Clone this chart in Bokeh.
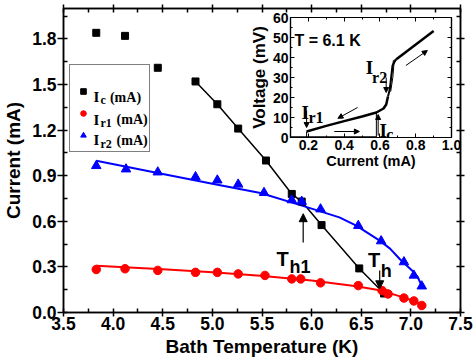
from bokeh.plotting import figure
from bokeh.models import (Range1d, LinearAxis, Legend, LegendItem, Label, Arrow,
                          NormalHead, SingleIntervalTicker, PrintfTickFormatter,
                          CustomJSTickFormatter)
from bokeh.layouts import column
from bokeh.embed import file_html
from bokeh.resources import INLINE

# ---------------- data ----------------
T_ic = [3.83, 4.12, 4.45, 4.83, 5.05, 5.26, 5.54, 5.80, 5.90, 6.10, 6.48, 6.73]
I_c = [1.84, 1.82, 1.61, 1.52, 1.37, 1.21, 1.00, 0.78, 0.73, 0.575, 0.29, 0.125]

T_r1 = [3.83, 4.12, 4.45, 4.83, 5.05, 5.26, 5.53, 5.80, 5.89, 6.09, 6.47, 6.71, 6.77, 6.93, 7.03, 7.11]
I_r1 = [0.283, 0.288, 0.277, 0.264, 0.264, 0.254, 0.244, 0.221, 0.221, 0.195, 0.177, 0.144, 0.122, 0.095, 0.076, 0.046]

T_r2 = [3.83, 4.13, 4.45, 4.83, 5.05, 5.26, 5.52, 5.80, 5.90, 6.09, 6.47, 6.70, 6.93, 7.03, 7.11]
I_r2 = [0.965, 0.943, 0.923, 0.892, 0.870, 0.843, 0.788, 0.740, 0.730, 0.680, 0.571, 0.470, 0.332, 0.244, 0.173]

# fitted curves
fit_r1_T = [3.83, 4.50, 5.00, 5.485, 6.00, 6.45, 6.70, 6.89, 7.00, 7.12]
fit_r1_I = [0.308, 0.285, 0.264, 0.242, 0.210, 0.173, 0.145, 0.106, 0.082, 0.050]
fit_r2_T = [3.83, 4.45, 5.00, 5.485, 5.92, 6.28, 6.45, 6.69, 6.79, 6.89, 7.02, 7.07, 7.12]
fit_r2_I = [0.998, 0.918, 0.847, 0.786, 0.700, 0.626, 0.571, 0.471, 0.420, 0.350, 0.272, 0.232, 0.160]

# inset I-V curve at T = 6.1 K (current mA, voltage mV)
iv_zero_I = [0.10, 0.58]
iv_zero_V = [0.0, 0.0]
iv_jump_I = [0.58, 0.58]
iv_jump_V = [0.0, 12.5]
iv_ret_I = [0.19, 0.19]
iv_ret_V = [0.0, 3.0]
iv_res_I = [0.19, 0.30, 0.40, 0.50, 0.58, 0.62, 0.635, 0.645]
iv_res_V = [3.0, 5.8, 8.2, 10.5, 12.5, 14.5, 16.5, 20.5]
iv_tr_I = [0.645, 0.655, 0.670, 0.690]
iv_tr_V = [20.5, 24.0, 36.0, 39.0]
iv_th1_I = [0.655, 0.675, 0.690]
iv_th1_V = [24.0, 38.5, 39.0]
iv_th2_I = [0.660, 0.672, 0.680]
iv_th2_V = [23.0, 30.0, 38.5]
iv_up_I = [0.69, 0.90]
iv_up_V = [39.0, 53.3]

BOLD_SANS = "Liberation Sans"
SERIF = "Liberation Serif"

# ---------------- main figure ----------------
p = figure(width=474, height=364, x_range=Range1d(3.5, 7.5), y_range=Range1d(0, 2.0),
           output_backend="svg", toolbar_location=None,
           min_border_left=63, min_border_right=13, min_border_top=8, min_border_bottom=52,
           background_fill_color="white", border_fill_color="white")
p.xgrid.visible = False
p.ygrid.visible = False
p.outline_line_color = "black"
p.outline_line_width = 1.5

xt = SingleIntervalTicker(interval=0.5, num_minor_ticks=2)
yt = SingleIntervalTicker(interval=0.3, num_minor_ticks=2)
p.xaxis.ticker = xt
p.yaxis.ticker = yt
p.yaxis.formatter = PrintfTickFormatter(format="%.1f")
p.xaxis.formatter = PrintfTickFormatter(format="%.1f")
for ax in (p.xaxis[0], p.yaxis[0]):
    ax.axis_line_width = 1.5
    ax.major_tick_line_width = 1.5
    ax.minor_tick_line_width = 1.5
    ax.major_tick_in = 0
    ax.minor_tick_out = 0
    ax.minor_tick_in = 4
    ax.major_label_text_font = BOLD_SANS
    ax.major_label_text_font_style = "bold"
    ax.major_label_text_font_size = "17.5px"
    ax.major_label_text_color = "black"
    ax.axis_label_text_font = BOLD_SANS
    ax.axis_label_text_font_style = "bold"
    ax.axis_label_text_font_size = "19px"
    ax.axis_label_text_color = "black"
p.xaxis.major_tick_out = 4
p.yaxis.major_tick_out = 6
p.xaxis.axis_label = "Bath Temperature (K)"
p.yaxis.axis_label = "Current (mA)"
p.xaxis.major_label_standoff = 0
p.yaxis.major_label_standoff = 1
p.xaxis.axis_label_standoff = 3
p.yaxis.axis_label_standoff = 5

blank = CustomJSTickFormatter(code="return ''")
ra = LinearAxis(ticker=yt, formatter=blank, axis_line_width=1.5, major_tick_line_width=1.5,
                minor_tick_line_width=1.5, major_tick_out=4, major_tick_in=0,
                minor_tick_out=0, minor_tick_in=4, major_label_standoff=0)
ta = LinearAxis(ticker=xt, formatter=blank, axis_line_width=1.5, major_tick_line_width=1.5,
                minor_tick_line_width=1.5, major_tick_out=4, major_tick_in=0,
                minor_tick_out=0, minor_tick_in=4, major_label_standoff=0)
p.add_layout(ra, "right")
p.add_layout(ta, "above")

# lines
p.line(T_ic[3:], I_c[3:], line_color="black", line_width=1.5)
p.line(fit_r1_T, fit_r1_I, line_color="red", line_width=2)
p.line(fit_r2_T, fit_r2_I, line_color="blue", line_width=2)

# markers
r_c = p.scatter(T_ic, I_c, marker="square", size=7, color="black")
r_r1 = p.scatter(T_r1, I_r1, marker="circle", size=8.5, color="red")
r_r2 = p.scatter(T_r2, I_r2, marker="triangle", size=9.5, color="blue")

legend = Legend(items=[LegendItem(label=" ", renderers=[r_c]),
                       LegendItem(label="  ", renderers=[r_r1]),
                       LegendItem(label="   ", renderers=[r_r2])],
                location=(6, 160), padding=6, spacing=2, glyph_width=14, glyph_height=16,
                label_height=20, label_width=48, label_standoff=5,
                label_text_font_size="10px", title=" ", title_text_font_size="9px",
                title_standoff=0, border_line_color="black", border_line_width=1,
                background_fill_alpha=0.0)
p.add_layout(legend, "center")

# legend texts with subscripts
legend_rows = [("c", 1.4165, 3.968), ("r1", 1.2697, 4.035), ("r2", 1.1316, 4.035)]
for sub, yb, xm in legend_rows:
    p.add_layout(Label(x=3.8015, y=yb, text="I", text_color="black",
                       text_font=SERIF, text_font_style="bold", text_font_size="15px",
                       text_baseline="alphabetic", level="overlay"))
    p.add_layout(Label(x=3.872, y=yb - 0.02, text=sub, text_color="black",
                       text_font=SERIF, text_font_style="bold", text_font_size="12px",
                       text_baseline="alphabetic", level="overlay"))
    p.add_layout(Label(x=xm, y=yb, text="(mA)", text_color="black",
                       text_font=SERIF, text_font_style="bold", text_font_size="14px",
                       text_baseline="alphabetic", level="overlay"))

# Th1 and Th annotations
p.add_layout(Arrow(end=NormalHead(size=8, fill_color="black", line_color="black"),
                   x_start=5.915, y_start=0.46, x_end=5.915, y_end=0.65,
                   line_color="black", line_width=1.2))
p.add_layout(Label(x=5.645, y=0.353, text="T", text_color="black", text_font=BOLD_SANS,
                   text_font_style="bold", text_font_size="20px", text_baseline="alphabetic"))
p.add_layout(Label(x=5.776, y=0.298, text="h1", text_color="black", text_font=BOLD_SANS,
                   text_font_style="bold", text_font_size="18px", text_baseline="alphabetic"))
p.add_layout(Arrow(end=NormalHead(size=8, fill_color="black", line_color="black"),
                   x_start=6.686, y_start=0.276, x_end=6.686, y_end=0.156,
                   line_color="black", line_width=1.2))
p.add_layout(Label(x=6.568, y=0.347, text="T", text_color="black", text_font=BOLD_SANS,
                   text_font_style="bold", text_font_size="20px", text_baseline="alphabetic"))
p.add_layout(Label(x=6.696, y=0.276, text="h", text_color="black", text_font=BOLD_SANS,
                   text_font_style="bold", text_font_size="18px", text_baseline="alphabetic"))

# ---------------- inset ----------------
ins = figure(width=238, height=180, x_range=Range1d(0.1, 1.0), y_range=Range1d(0, 60),
             output_backend="svg", toolbar_location=None,
             min_border_left=62, min_border_right=14, min_border_top=14, min_border_bottom=46,
             border_fill_alpha=0.0, background_fill_color="white")
ins.xgrid.visible = False
ins.ygrid.visible = False
ins.outline_line_color = "black"
ins.outline_line_width = 1.2
ixt = SingleIntervalTicker(interval=0.2, num_minor_ticks=2)
iyt = SingleIntervalTicker(interval=10, num_minor_ticks=2)
ins.xaxis.ticker = ixt
ins.yaxis.ticker = iyt
ins.xaxis.formatter = PrintfTickFormatter(format="%.1f")
for ax in (ins.xaxis[0], ins.yaxis[0]):
    ax.axis_line_width = 1.2
    ax.major_tick_out = 0
    ax.major_tick_in = 4
    ax.minor_tick_out = 0
    ax.minor_tick_in = 2
    ax.major_label_text_font = BOLD_SANS
    ax.major_label_text_font_style = "bold"
    ax.major_label_text_font_size = "14px"
    ax.major_label_text_color = "black"
    ax.axis_label_text_font = BOLD_SANS
    ax.axis_label_text_font_style = "bold"
    ax.axis_label_text_color = "black"
    ax.major_label_standoff = 2
ins.xaxis.axis_label = "Current (mA)"
ins.yaxis.axis_label = "Voltage (mV)"
ins.xaxis.axis_label_text_font_size = "14.5px"
ins.yaxis.axis_label_text_font_size = "17px"
ins.xaxis.axis_label_standoff = 0
ins.yaxis.axis_label_standoff = 1
ins.add_layout(LinearAxis(ticker=iyt, formatter=blank, major_tick_out=0, major_tick_in=4,
                          minor_tick_out=0, minor_tick_in=2, axis_line_width=1.2,
                          major_label_standoff=0), "right")
ins.add_layout(LinearAxis(ticker=ixt, formatter=blank, major_tick_out=0, major_tick_in=4,
                          minor_tick_out=0, minor_tick_in=2, axis_line_width=1.2,
                          major_label_standoff=0), "above")

ins.line(iv_zero_I, iv_zero_V, line_color="black", line_width=2.5)
ins.line(iv_jump_I, iv_jump_V, line_color="black", line_width=1)
ins.line(iv_ret_I, iv_ret_V, line_color="black", line_width=1)
ins.line(iv_res_I, iv_res_V, line_color="black", line_width=2.5)
ins.line(iv_tr_I, iv_tr_V, line_color="black", line_width=2)
ins.line(iv_th1_I, iv_th1_V, line_color="black", line_width=1)
ins.line(iv_th2_I, iv_th2_V, line_color="black", line_width=1)
ins.line(iv_up_I, iv_up_V, line_color="black", line_width=2.5)

def small_arrow(x0, y0, x1, y1):
    ins.add_layout(Arrow(end=NormalHead(size=5, fill_color="black", line_color="black"),
                         x_start=x0, y_start=y0, x_end=x1, y_end=y1,
                         line_color="black", line_width=1))

small_arrow(0.345, 3.0, 0.485, 3.0)
small_arrow(0.475, 15.0, 0.365, 9.6)
small_arrow(0.745, 36.0, 0.865, 43.5)
small_arrow(0.19, 13.5, 0.19, 5.0)
small_arrow(0.59, 1.0, 0.59, 11.5)
small_arrow(0.635, 30.0, 0.635, 22.5)

ins.add_layout(Label(x=0.122, y=48.5, text="T = 6.1 K", text_color="black", text_font=BOLD_SANS,
                     text_font_style="bold", text_font_size="16px", text_baseline="alphabetic"))
for (xi, yi, xs, ys, sub) in [(0.161, 12.5, 0.2, 10.0, "r1"),
                               (0.597, 3.3, 0.635, 1.6, "c"),
                               (0.52, 35.0, 0.556, 30.0, "r2")]:
    ins.add_layout(Label(x=xi, y=yi, text="I", text_color="black", text_font=SERIF,
                         text_font_style="bold", text_font_size="19px",
                         text_baseline="alphabetic"))
    ins.add_layout(Label(x=xs, y=ys, text=sub, text_color="black", text_font=SERIF,
                         text_font_style="bold", text_font_size="16px",
                         text_baseline="alphabetic"))

# place the inset over the main plot (negative top margin pulls it up)
ins.margin = (-361, 0, 181, 227)

layout = column(p, ins)
open("out.html", "w").write(file_html(layout, INLINE))
